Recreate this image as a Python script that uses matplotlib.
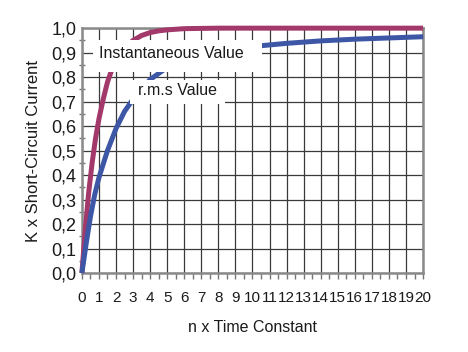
import numpy as np
import matplotlib
matplotlib.use("Agg")
import matplotlib.pyplot as plt
from matplotlib.patches import Rectangle
from matplotlib.ticker import MultipleLocator, FixedLocator

plt.rcParams["font.family"] = ["Liberation Sans", "DejaVu Sans"]

# n x time constant vs. K x short-circuit current
inst_t = [0, 0.2, 0.4, 0.6, 0.8, 1.0, 1.25, 1.5, 1.75, 2.0, 2.5, 3.0, 3.5,
          4.0, 4.5, 5.0, 6.0, 8.0, 20.0]
inst_k = [0.0, 0.18, 0.33, 0.45, 0.55, 0.63, 0.71, 0.78, 0.83, 0.865, 0.918,
          0.95, 0.97, 0.982, 0.989, 0.993, 0.998, 1.0, 1.0]

rms_t = [0, 0.25, 0.5, 0.75, 1.0, 1.5, 2.0, 2.5, 3.0, 4.0, 5.0, 6.0, 7.0,
         8.0, 10.0, 12.0, 14.0, 16.0, 18.0, 20.0]
rms_k = [0.0, 0.12, 0.23, 0.32, 0.39, 0.50, 0.59, 0.66, 0.71, 0.79, 0.84,
         0.87, 0.89, 0.905, 0.925, 0.938, 0.948, 0.955, 0.96, 0.965]

x_ticks = list(range(0, 21))
x_labels = [str(v) for v in x_ticks]
y_ticks = [i / 10 for i in range(11)]
y_labels = ["0,0", "0,1", "0,2", "0,3", "0,4", "0,5",
            "0,6", "0,7", "0,8", "0,9", "1,0"]

INST_COLOR = "#a3396b"
RMS_COLOR = "#3d57a6"
TEXT_COLOR = "#1a1a1a"

fig = plt.figure(figsize=(4.68, 3.52), dpi=100)
ax = fig.add_axes([0.175, 0.2244, 0.729, 0.6956])

ax.plot(inst_t, inst_k, color=INST_COLOR, lw=3.6, solid_capstyle="butt",
        zorder=3, clip_on=False)
ax.plot(rms_t, rms_k, color=RMS_COLOR, lw=3.6, solid_capstyle="butt",
        zorder=3, clip_on=False)

ax.set_xlim(0, 20)
ax.set_ylim(0, 1.0)
ax.xaxis.set_major_locator(FixedLocator(x_ticks))
ax.set_xticklabels(x_labels)
ax.xaxis.set_minor_locator(MultipleLocator(0.5))
ax.yaxis.set_major_locator(FixedLocator(y_ticks))
ax.set_yticklabels(y_labels)
ax.yaxis.set_minor_locator(MultipleLocator(0.05))

ax.grid(True, which="major", color="#3a3a3a", lw=0.9, zorder=1)
ax.set_axisbelow(True)

ax.tick_params(axis="x", which="both", direction="out", length=4,
               width=1.0, color="#777777", labelsize=11, pad=9,
               labelcolor=TEXT_COLOR)
ax.tick_params(axis="y", which="major", direction="out", length=0,
               labelsize=13, pad=4, labelcolor=TEXT_COLOR)
ax.tick_params(axis="y", which="minor", direction="inout", length=5,
               width=1.0, color="#777777")

for side in ["left", "right", "top", "bottom"]:
    ax.spines[side].set_color("#8a8a8a")
    ax.spines[side].set_linewidth(1.8)

# white boxes behind the curve labels
ax.add_patch(Rectangle((0.65, 0.82), 9.9, 0.131, facecolor="white",
                       edgecolor="none", zorder=4))
ax.text(1.0, 0.897, "Instantaneous Value", fontsize=11.5, color=TEXT_COLOR,
        ha="left", va="center", zorder=5)
ax.add_patch(Rectangle((2.8, 0.69), 5.6, 0.098, facecolor="white",
                       edgecolor="none", zorder=4))
ax.text(3.3, 0.745, "r.m.s Value", fontsize=11.5, color=TEXT_COLOR,
        ha="left", va="center", zorder=5)

ax.set_xlabel("n x Time Constant", fontsize=11.5, color=TEXT_COLOR,
              labelpad=11)
ax.set_ylabel("K x Short-Circuit Current", fontsize=12, color=TEXT_COLOR,
              labelpad=7)

fig.savefig("out.png", dpi=100)
